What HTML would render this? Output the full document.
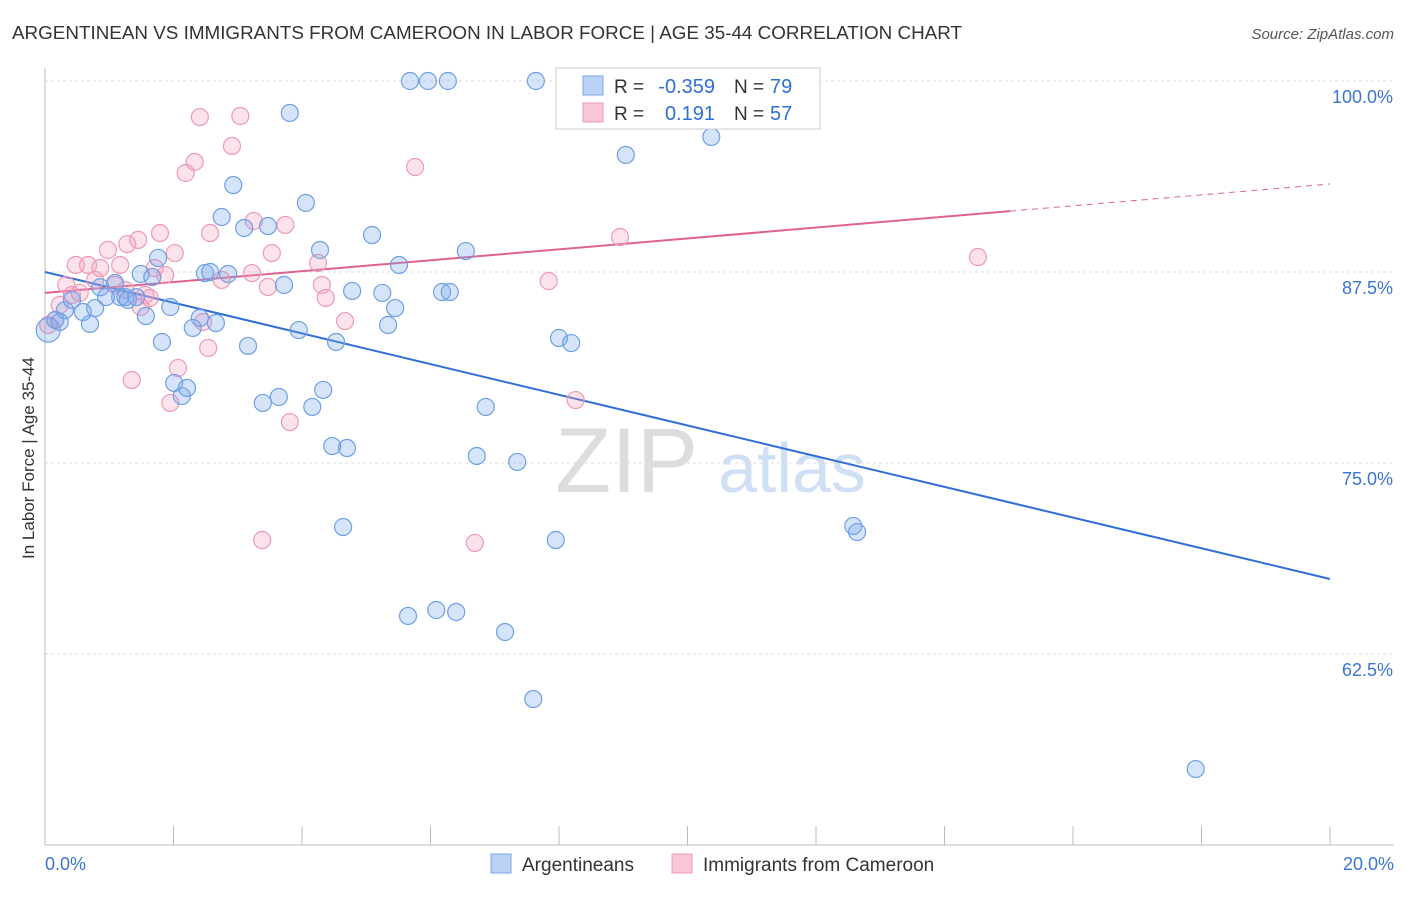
<!DOCTYPE html>
<html><head><meta charset="utf-8"><style>
body{margin:0;background:#fff;font-family:"Liberation Sans",sans-serif;}
svg text{font-family:"Liberation Sans",sans-serif;}
</style></head><body>
<svg id="chart" width="1406" height="892">
<text x="12" y="39" font-size="18" fill="#333" textLength="950" lengthAdjust="spacingAndGlyphs">ARGENTINEAN VS IMMIGRANTS FROM CAMEROON IN LABOR FORCE | AGE 35-44 CORRELATION CHART</text>
<text x="1394" y="39" font-size="15" fill="#555" font-style="italic" text-anchor="end">Source: ZipAtlas.com</text>
<text x="34" y="458" font-size="17" fill="#333" text-anchor="middle" transform="rotate(-90 34 458)">In Labor Force | Age 35-44</text>
<g><text x="555" y="492" font-size="92" fill="#ddd" font-family="Liberation Serif">ZIP</text><text x="718" y="492" font-size="70" fill="#cfe0f5">atlas</text></g>
<g id="grid"></g><g id="axes"></g><g id="trend"></g><g id="points"></g>
<g>
<rect x="556" y="68" width="264" height="61" fill="#fff" stroke="#ccc"/>
<rect x="583" y="76" width="20" height="19" fill="#b9d2f5" stroke="#7aa5e6"/>
<rect x="583" y="103" width="20" height="19" fill="#f9c6d6" stroke="#ee9ab6"/>
<text x="614" y="93" font-size="19" fill="#333">R =</text>
<text x="715" y="93" font-size="20" fill="#2f6fd6" text-anchor="end">-0.359</text>
<text x="734" y="93" font-size="19" fill="#333">N =</text>
<text x="770" y="93" font-size="20" fill="#2f6fd6">79</text>
<text x="614" y="120" font-size="19" fill="#333">R =</text>
<text x="715" y="120" font-size="20" fill="#2f6fd6" text-anchor="end">0.191</text>
<text x="734" y="120" font-size="19" fill="#333">N =</text>
<text x="770" y="120" font-size="20" fill="#2f6fd6">57</text>
</g>
<g>
<rect x="491" y="854" width="20" height="19" fill="#b9d2f5" stroke="#7aa5e6"/>
<text x="522" y="871" font-size="19" fill="#333">Argentineans</text>
<rect x="672" y="854" width="20" height="19" fill="#f9c6d6" stroke="#ee9ab6"/>
<text x="703" y="871" font-size="19" fill="#333">Immigrants from Cameroon</text>
</g>
</svg>
<script>
const yTicks=[100,87.5,75,62.5];
const yTickLabels=["100.0%","87.5%","75.0%","62.5%"];
const xTickLabels=["0.0%","20.0%"];
const blueX=[.16,.23,.31,.42,.59,.70,.78,.86,.95,1.09,1.17,1.25,1.29,1.42,1.49,1.57,1.67,1.76,1.82,1.95,2.01,2.13,2.21,2.30,2.41,2.49,2.57,2.66,2.75,2.85,2.93,3.10,3.16,3.39,3.47,3.64,3.72,3.81,3.95,4.06,4.16,4.28,4.33,4.47,4.53,4.70,4.78,4.64,5.09,5.25,5.34,5.45,5.51,5.65,5.68,5.96,6.09,6.18,6.27,6.30,6.40,6.55,6.72,6.86,7.16,7.35,7.60,7.64,7.95,8.0,8.19,9.04,10.37,12.58,12.64,17.91,.05];
const blueY=[84.36,84.23,85.0,85.67,84.88,84.1,85.14,86.5,85.86,86.78,85.86,85.86,85.67,85.86,87.37,84.62,87.17,88.42,82.92,85.21,80.24,79.38,79.91,83.84,84.49,87.43,87.5,84.16,91.1,87.37,93.19,90.38,82.66,78.93,90.51,79.32,86.65,97.91,83.7,92.02,78.67,88.94,79.78,76.11,82.92,75.98,86.26,70.81,89.92,86.13,84.03,85.14,87.96,64.99,100,100,65.38,86.19,100,86.19,65.25,88.87,75.46,78.67,63.94,75.07,59.55,100,69.96,83.18,82.85,95.16,96.34,70.88,70.48,54.97,83.7];
const pinkX=[.05,.16,.23,.33,.42,.48,.54,.67,.78,.86,.98,1.09,1.17,1.25,1.28,1.35,1.45,1.49,1.56,1.63,1.71,1.79,1.87,1.95,2.02,2.07,2.19,2.33,2.41,2.46,2.54,2.57,2.75,2.91,3.04,3.22,3.25,3.38,3.47,3.53,3.74,3.81,4.25,4.31,4.37,4.67,5.76,6.69,7.84,8.26,8.95,11.52,14.52];
const pinkY=[84.03,84.36,85.34,86.65,86.0,87.96,86.13,87.96,86.98,87.76,88.94,86.65,87.96,86.32,89.33,80.43,89.6,85.21,86.0,85.8,87.76,90.05,87.3,78.93,88.74,81.22,93.98,94.7,97.64,84.23,82.53,90.05,86.98,95.75,97.71,87.43,90.84,69.96,86.52,88.74,90.58,77.68,88.09,86.65,85.8,84.29,94.37,69.77,86.91,79.12,89.79,100,88.48];
const blueTrend=[87.5,67.41];
const pinkTrend=[86.13,93.26];
const pinkSolidEnd=15.02;
const NS="http://www.w3.org/2000/svg";
const X=v=>45+v*64.25, Y=v=>81+(100-v)*15.28;
function mk(tag,attrs,parent){const e=document.createElementNS(NS,tag);for(const k in attrs)e.setAttribute(k,attrs[k]);document.getElementById(parent).appendChild(e);return e;}
yTicks.forEach((t,i)=>{
 const l=mk('line',{x1:45,x2:1394,y1:Y(t),y2:Y(t),stroke:'#ddd','stroke-dasharray':'3,3'},'grid');
 
 
 const tx=mk('text',{x:1393,y:Y(t)+22,'font-size':18,fill:'#3a75d6','text-anchor':'end'},'grid');
 tx.textContent=yTickLabels[i];
 
 
});
const ax=mk('line',{x1:45,x2:45,y1:68,y2:845,stroke:'#bbb'},'axes');


const bx=mk('line',{x1:45,x2:1394,y1:845,y2:845,stroke:'#bbb'},'axes');


for(let i=0;i<=10;i++){const t=mk('line',{x1:X(i*2),x2:X(i*2),y1:826,y2:845,stroke:'#bbb'},'axes');
 
 }
[[0,'start',45],[20,'end',1394]].forEach((d,i)=>{const t=mk('text',{x:d[2],y:870,'font-size':18,fill:'#3a75d6','text-anchor':d[1]},'axes');t.textContent=xTickLabels[i];
 
 });
function pts(xs,ys,fill,stroke,name){xs.forEach((x,i)=>{const c=mk('circle',{cx:X(x),cy:Y(ys[i]),r:(i==xs.length-1&&name=='argentinean-point')?12:8.5,fill:fill,stroke:stroke,'stroke-width':1.2},'points');
 
 });}
pts(pinkX,pinkY,'rgba(244,160,190,0.3)','#ee9ab6','cameroon-point');
pts(blueX,blueY,'rgba(120,165,235,0.3)','#6f9fe4','argentinean-point');
const bt=mk('line',{x1:X(0),y1:Y(blueTrend[0]),x2:X(20),y2:Y(blueTrend[1]),stroke:'#2f6fd6','stroke-width':2},'trend');


const pAt=x=>pinkTrend[0]+(pinkTrend[1]-pinkTrend[0])*x/20;
const pt=mk('line',{x1:X(0),y1:Y(pAt(0)),x2:X(pinkSolidEnd),y2:Y(pAt(pinkSolidEnd)),stroke:'#e0628f','stroke-width':2},'trend');


const pd=mk('line',{x1:X(pinkSolidEnd),y1:Y(pAt(pinkSolidEnd)),x2:X(20),y2:Y(pAt(20)),stroke:'#e0628f','stroke-width':1,'stroke-dasharray':'6,5'},'trend');


</script>
</body></html>
